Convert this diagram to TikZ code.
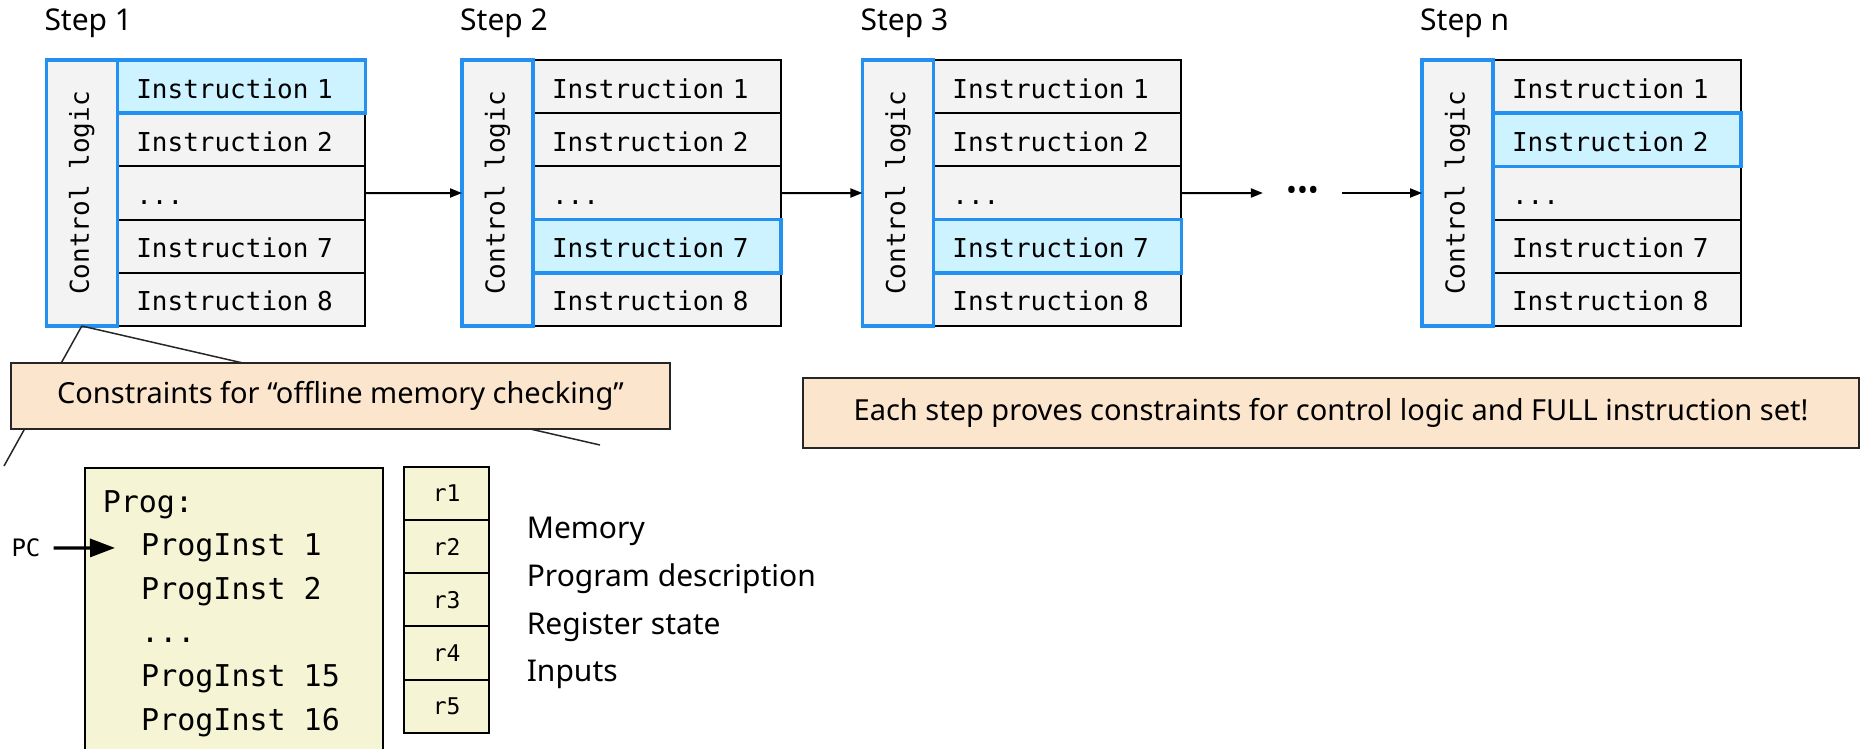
\documentclass[tikz,border=0pt]{standalone}
\usepackage{fontspec}
\setmainfont{Noto Sans}
\setmonofont{DejaVu Sans Mono}
\usepackage{graphicx}
\usepackage{tikz}
\usetikzlibrary{arrows.meta,positioning}
\definecolor{ctlblue}{HTML}{2490F0}
\definecolor{hlcyan}{HTML}{CCF3FF}
\definecolor{rowgray}{HTML}{F3F3F3}
\definecolor{notepeach}{HTML}{FCE5CD}
\definecolor{progyellow}{HTML}{F5F5D6}
\newcommand{\rowfont}{\ttfamily\fontsize{26}{30}\selectfont}
\newcommand{\rowdots}{...}
% one step: rows of the instruction set, its control logic and the step title
\newcommand{\stepblock}[4]{%
  \tikzset{sel1/.style={},sel2/.style={},sel3/.style={},sel4/.style={},sel5/.style={},sel#4/.style={hl}}%
  \foreach \r/\txt [count=\k from 0] in {1/Instruction 1,2/Instruction 2,3/\rowdots,4/Instruction 7,5/Instruction 8}
    \node[instr,sel\r,anchor=north west] (#1r\r) at ({#2+71},{60+\k*53.2}) {\txt};
  \draw[hlline] (#1r#4.north west) rectangle (#1r#4.south east);
  \node[ctl,anchor=north east] (#1c) at (#1r1.north west) {\rotatebox{90}{Control logic}};
  \node[steplbl] (#1lbl) at ({#2-2},30) {#3};
}

\begin{document}
\begin{tikzpicture}[x=1pt,y=-1pt,
  instr/.style={draw=black,line width=2pt,fill=rowgray,minimum height=53.2pt,text width=210pt,
    inner xsep=19pt,inner ysep=0pt,align=left,outer sep=0pt,text height=23pt,text depth=0pt,font=\rowfont},
  hl/.style={fill=hlcyan},
  hlline/.style={draw=ctlblue,line width=3.5pt},
  ctl/.style={draw=ctlblue,line width=3.5pt,fill=rowgray,minimum width=71pt,minimum height=266pt,
    inner sep=0pt,outer sep=0pt,font=\rowfont},
  steplbl/.style={anchor=base west,inner sep=0pt,font=\fontsize{30}{36}\selectfont},
  flow/.style={-{Triangle[length=12pt,width=9pt]},line width=2pt},
  note/.style={draw=black!85,line width=1.8pt,fill=notepeach,inner sep=0pt,font=\fontsize{29}{34}\selectfont},
  wedge/.style={draw=black!85,line width=1.5pt},
  prog/.style={draw=black,line width=2pt,fill=progyellow,minimum width=298pt,minimum height=300pt,inner sep=0pt},
  progtxt/.style={anchor=base west,inner sep=0pt,font=\ttfamily\fontsize{30}{36}\selectfont},
  reg/.style={draw=black,line width=2pt,fill=progyellow,minimum width=85.3pt,minimum height=53.2pt,
    inner sep=0pt,outer sep=0pt,font=\ttfamily\fontsize{23}{28}\selectfont},
  lbl/.style={anchor=base west,inner sep=0pt,font=\fontsize{30}{36}\selectfont}]
\useasboundingbox (0,0) rectangle (1860,748);
\clip (0,0) rectangle (1860,748);

\stepblock{s1}{46.3}{Step 1}{1}
\stepblock{s2}{462}{Step 2}{4}
\stepblock{s3}{862.4}{Step 3}{4}
\stepblock{sn}{1422}{Step n}{2}

\node[inner xsep=23pt,inner ysep=0pt,font=\fontsize{29}{34}\selectfont] (dots) at (1302.5,193) {•••};
\draw[flow] (s1r3.east) -- (s2c.west);
\draw[flow] (s2r3.east) -- (s3c.west);
\draw[flow] (s3r3.east) -- (dots.west);
\draw[flow] (dots.east) -- (snc.west);

% zoom lines from the first control logic down to the machine state
\coordinate (wedgeL) at (4,466);
\coordinate (wedgeR) at (600,445);
\draw[wedge] (s1c.south) -- (wedgeL);
\draw[wedge] (s1c.south) -- (wedgeR);

\node[note,minimum width=659pt,minimum height=66pt] (cons) at (340.5,396) {Constraints for “offline memory checking”};
\node[note,minimum width=1056pt,minimum height=70pt] (each) at (1331,413) {Each step proves constraints for control logic and FULL instruction set!};

\node[prog,anchor=north west] (prog) at (83.5,466.7) {};
\node[progtxt] (ptitle) at (102.6,512) {Prog:};
\foreach \txt [count=\k] in {ProgInst 1,ProgInst 2,\rowdots,ProgInst 15,ProgInst 16}
  \node[progtxt] (pi\k) at (141,{512+\k*43.6}) {\txt};

\node[inner sep=0pt,font=\ttfamily\fontsize{24}{28}\selectfont] (pc) at (26,548) {PC};
\draw[line width=3.3pt,-{Triangle[length=25pt,width=18pt]},shorten <=13pt,shorten >=26pt] (pc.east) -- (pi1.west);

\node[reg,anchor=north west] (reg1) at (404,466.7) {r1};
\node[reg,below=0pt of reg1] (reg2) {r2};
\node[reg,below=0pt of reg2] (reg3) {r3};
\node[reg,below=0pt of reg3] (reg4) {r4};
\node[reg,below=0pt of reg4] (reg5) {r5};

\node[lbl] (mem) at (526.6,538.3) {Memory};
\node[lbl] (pdesc) at (526.6,586.5) {Program description};
\node[lbl] (rstate) at (526.6,634.3) {Register state};
\node[lbl] (inp) at (526.6,681.7) {Inputs};
\end{tikzpicture}
\end{document}
